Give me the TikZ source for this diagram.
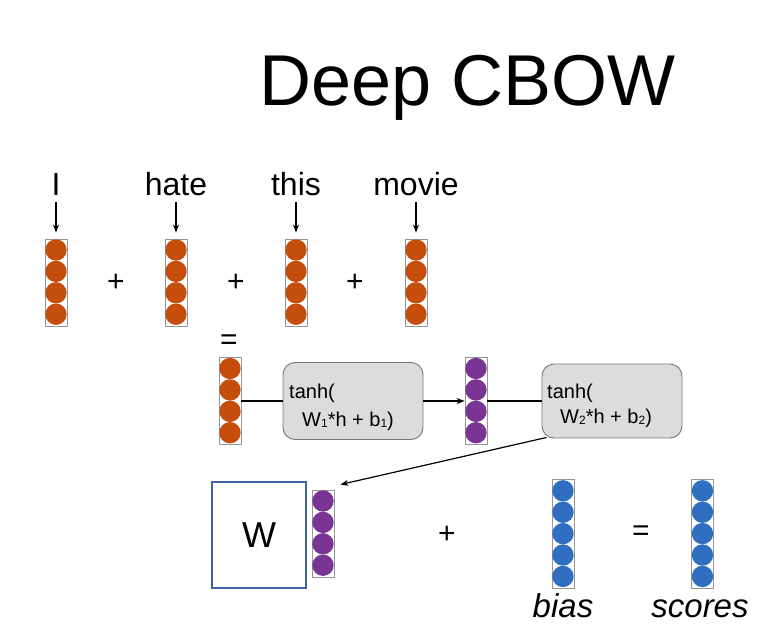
\documentclass[tikz,border=0pt]{standalone}
\usepackage{fontspec}
\setmainfont{Liberation Sans}
\usetikzlibrary{arrows.meta,calc}
\definecolor{vorange}{RGB}{198,78,12}
\definecolor{vpurple}{RGB}{122,52,148}
\definecolor{vblue}{RGB}{48,110,192}
\definecolor{vframe}{RGB}{150,150,150}
\definecolor{boxfill}{RGB}{220,220,220}
\definecolor{boxdraw}{RGB}{120,120,120}
\definecolor{wblue}{RGB}{60,100,160}
\newcommand\vecnode[5]{% name, x, y, n, colour
  \node[vec, minimum height=#4*21.4pt+1.5pt] (#1) at (#2,#3) {};
  \foreach \i in {1,...,#4}
    \fill[#5] ($(#1.north)+(0pt,-11.45pt-21.4pt*\i+21.4pt)$) circle (10.7pt);
}
\newcommand\subs[1]{\raisebox{-1.5pt}{\fontsize{12}{14}\selectfont #1}}
\begin{document}
\begin{tikzpicture}[x={(1pt,0)},y={(0,-1pt)},
  vec/.style={draw=vframe, fill=white, line width=0.8pt, minimum width=22pt, inner sep=0pt},
  word/.style={font=\fontsize{32}{36}\selectfont, inner sep=0pt, anchor=base},
  sym/.style={font=\fontsize{30}{34}\selectfont, inner sep=0pt},
  tbox/.style={draw=boxdraw, fill=boxfill, rounded corners=12pt, line width=0.9pt, minimum width=140pt, inner sep=0pt},
  ttext/.style={font=\fontsize{20}{24}\selectfont, inner sep=0pt, anchor=base west},
  arr/.style={-{Stealth[length=8pt,width=6pt]}, line width=1.2pt},
  conn/.style={line width=1.2pt}]
\useasboundingbox (0,0) rectangle (772,635);
% title
\node[inner sep=0pt, anchor=base, font=\fontsize{72}{80}\selectfont] (title) at (468,105) {Deep CBOW};
% words
\node[word] (wI) at (56,195) {I};
\node[word] (wH) at (176,195) {hate};
\node[word] (wT) at (296,195) {this};
\node[word] (wM) at (416,195) {movie};
% word vectors
\vecnode{v1}{56}{282.5}{4}{vorange}
\vecnode{v2}{176}{282.5}{4}{vorange}
\vecnode{v3}{296}{282.5}{4}{vorange}
\vecnode{v4}{416}{282.5}{4}{vorange}
\foreach \w/\v in {wI/v1,wH/v2,wT/v3,wM/v4}
  \draw[arr, shorten >=6pt] ($(\w.base)+(0,7)$) -- (\v.north);
\node[sym] (pl1) at (116,283) {+};
\node[sym] (pl2) at (236,283) {+};
\node[sym] (pl3) at (355,283) {+};
% sum
\node[sym] (eq1) at (229,342) {=};
\vecnode{h}{230}{401}{4}{vorange}
\node[tbox, minimum height=77pt] (t1) at (353,401) {};
\node[ttext] (t1a) at (289,398) {tanh(};
\node[ttext] (t1b) at (302,426) {W\subs{1}*h + b\subs{1})};
\vecnode{p1}{476}{401}{4}{vpurple}
\node[tbox, minimum height=74pt] (t2) at (612,401) {};
\node[ttext] (t2a) at (547,398) {tanh(};
\node[ttext] (t2b) at (560,423) {W\subs{2}*h + b\subs{2})};
\draw[conn] (h.east) -- (t1.west);
\draw[arr] (t1.east) -- (p1.west);
\draw[conn] (p1.east) -- (t2.west);
% output
\node[draw=wblue, line width=1.5pt, minimum width=94pt, minimum height=106pt, inner sep=0pt,
      font=\fontsize{36}{40}\selectfont] (W) at (259,535) {W};
\vecnode{p2}{323}{533.5}{4}{vpurple}
\coordinate (tip) at ($(p2.north east)+(6,-5)$);
\draw[arr] ($(t2.south west)+(5,-1)$) -- (tip);
\node[sym] (pl4) at (447,535) {+};
\vecnode{bias}{563}{534}{5}{vblue}
\node[sym] (eq2) at (641,533) {=};
\vecnode{scores}{702.5}{534}{5}{vblue}
\node[word, font=\fontsize{33}{36}\selectfont\itshape] (lb) at (563,617) {bias};
\node[word, font=\fontsize{33}{36}\selectfont\itshape] (ls) at (700,617) {scores};
\end{tikzpicture}
\end{document}
